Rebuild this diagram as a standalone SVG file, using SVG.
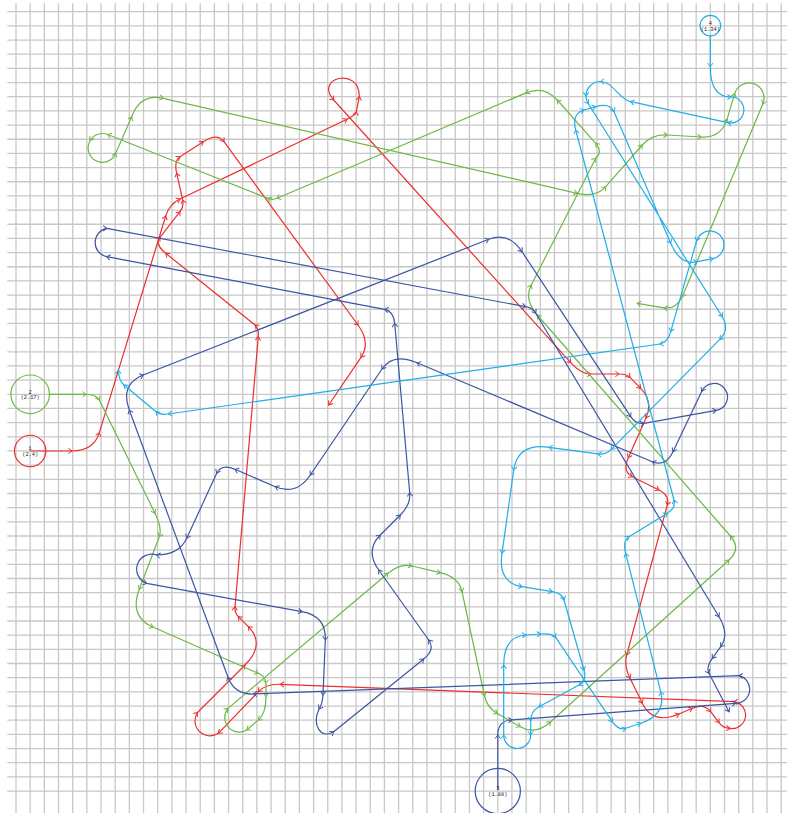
<svg xmlns="http://www.w3.org/2000/svg" width="787" height="813" viewBox="0 0 787 813">
<style>
.grid{fill:none;stroke:#c8c8c8;stroke-width:1.3}
.e{fill:none;stroke-width:1.2;stroke-linejoin:round;stroke-linecap:round}
.n{fill:none;stroke-width:1.2}
.t{font-family:"Liberation Mono","DejaVu Sans Mono",monospace;font-size:5.3px;fill:#222;text-anchor:middle}
.red{stroke:#ee2d2d}.grn{stroke:#6cb846}.blu{stroke:#3c55a5}.cyn{stroke:#1eaee8}
</style>
<defs>
<marker id="mr" markerUnits="userSpaceOnUse" markerWidth="8" markerHeight="8" viewBox="-4 -4 8 8" refX="0" refY="0" orient="auto" overflow="visible"><path d="M-3.6,-2.7L0,0L-3.6,2.7" fill="none" stroke="#ee2d2d" stroke-width="1"/></marker>
<marker id="mg" markerUnits="userSpaceOnUse" markerWidth="8" markerHeight="8" viewBox="-4 -4 8 8" refX="0" refY="0" orient="auto" overflow="visible"><path d="M-3.6,-2.7L0,0L-3.6,2.7" fill="none" stroke="#6cb846" stroke-width="1"/></marker>
<marker id="mb" markerUnits="userSpaceOnUse" markerWidth="8" markerHeight="8" viewBox="-4 -4 8 8" refX="0" refY="0" orient="auto" overflow="visible"><path d="M-3.6,-2.7L0,0L-3.6,2.7" fill="none" stroke="#3c55a5" stroke-width="1"/></marker>
<marker id="mc" markerUnits="userSpaceOnUse" markerWidth="8" markerHeight="8" viewBox="-4 -4 8 8" refX="0" refY="0" orient="auto" overflow="visible"><path d="M-3.6,-2.7L0,0L-3.6,2.7" fill="none" stroke="#1eaee8" stroke-width="1"/></marker>
</defs>
<rect x="0" y="0" width="787" height="813" fill="#ffffff"/>
<path class="grid" d="M16,3.3v810m14.17-810v810m14.17-810v810m14.17-810v810m14.17-810v810m14.17-810v810m14.17-810v810m14.17-810v810m14.17-810v810m14.17-810v810m14.17-810v810m14.17-810v810m14.17-810v810m14.17-810v810m14.17-810v810m14.17-810v810m14.17-810v810m14.17-810v810m14.17-810v810m14.17-810v810m14.17-810v810m14.17-810v810m14.17-810v810m14.17-810v810m14.17-810v810m14.17-810v810m14.17-810v810m14.17-810v810m14.17-810v810m14.17-810v810m14.17-810v810m14.17-810v810m14.17-810v810m14.17-810v810m14.17-810v810m14.17-810v810m14.17-810v810m14.17-810v810m14.17-810v810m14.17-810v810m14.17-810v810m14.17-810v810m14.17-810v810m14.17-810v810m14.17-810v810m14.17-810v810m14.17-810v810m14.17-810v810m14.17-810v810m14.17-810v810m14.17-810v810m14.17-810v810m14.17-810v810m14.17-810v810m14.17-810v810"/>
<path class="grid" d="M7.3,11.7h780m-780,14.17h780m-780,14.17h780m-780,14.17h780m-780,14.17h780m-780,14.17h780m-780,14.17h780m-780,14.17h780m-780,14.17h780m-780,14.17h780m-780,14.17h780m-780,14.17h780m-780,14.17h780m-780,14.17h780m-780,14.17h780m-780,14.17h780m-780,14.17h780m-780,14.17h780m-780,14.17h780m-780,14.17h780m-780,14.17h780m-780,14.17h780m-780,14.17h780m-780,14.17h780m-780,14.17h780m-780,14.17h780m-780,14.17h780m-780,14.17h780m-780,14.17h780m-780,14.17h780m-780,14.17h780m-780,14.17h780m-780,14.17h780m-780,14.17h780m-780,14.17h780m-780,14.17h780m-780,14.17h780m-780,14.17h780m-780,14.17h780m-780,14.17h780m-780,14.17h780m-780,14.17h780m-780,14.17h780m-780,14.17h780m-780,14.17h780m-780,14.17h780m-780,14.17h780m-780,14.17h780m-780,14.17h780m-780,14.17h780m-780,14.17h780m-780,14.17h780m-780,14.17h780m-780,14.17h780m-780,14.17h780m-780,14.17h780"/>
<g id="connectors">
<path id="path-red" class="e red" marker-mid="url(#mr)" marker-end="url(#mr)" d="M30.2,451 L72,451 Q93.8,451 99.3,432.7 L165.7,216 Q169.3,204.1 180,199 L347,119.3 Q355.6,115.2 356.3,111.7 L359.3,96.7 C359.8,66 313.6,77.7 333.7,100 L570.7,362.7 Q580.9,374 590.7,374 L619,374 Q626.8,374 630,377.3 L640.7,388.3 Q653.4,401.3 646,417.9 L628.3,457.7 Q622.1,471.6 632.3,476.7 L659,490 Q669.9,495.4 667.3,505 L626.7,655 Q623.8,665.7 630,678.3 L642.3,703.3 Q653,725.1 679,714 L692.3,708.3 Q704.3,703.2 710.7,711.7 L719,722.7 A13.5,13.5 0 0 0 730,728.4 A13.5,13.5 0 1 0 734,701.6 L280.3,684.3 Q265.9,683.8 258.3,691.7 L218.3,733.3 A15,15 0 0 1 197.5,712.5 L245,665 Q265.8,644.2 248.3,626.7 L238.3,616.7 Q234.5,612.9 235,606.7 L258.3,336.7 Q259,328.2 255,325 L165.7,253.3 Q154.5,244.3 160,237.3 L180,211.7 Q184.1,206.4 182.7,200 L176.7,173.3 Q173.8,160.7 180,156.7 L203.3,141.7 Q217.4,132.6 224,141.7 L358,325 Q371,342.6 361,357.3 L328.7,405"/>
<path id="path-green" class="e grn" marker-mid="url(#mg)" marker-end="url(#mg)" d="M49.3,394.3 L86,394.3 Q96.4,394.3 99.3,400 L155,513.3 Q162.4,528.4 159.3,536.7 L139.3,589.3 Q128.9,616.6 153.3,627.3 L258.3,673.3 Q266,676.7 266,683.3 L266,696.7 Q266,713.4 258.3,720 L246.7,730 A14.5,14.5 0 0 1 228,708.4 L388,573.3 Q400,563.2 412,566 L440.3,572.7 Q458.9,577.1 462,591.7 L484.5,696 Q487,707.4 497.5,713.5 L520.3,726.7 Q535.5,735.5 550.7,721.7 L729,560 Q741.5,548.7 730.4,536 L537.3,315 Q523.6,299.4 531.3,285 L595.7,158.3 Q603,151.5 595.7,143.3 L557.3,100 Q544.2,85.2 526,92.9 L277,198.3 Q272.4,200.2 267.8,198.4 L107.7,134.5 A14.3,14.3 0 0 0 90.2,140.5 A14.3,14.3 0 1 0 115.7,153.2 L131.7,116.7 Q140.4,93 163.3,98.3 L577.3,193.3 Q595.8,198 605.7,186.7 L642.3,145 Q651.9,134.1 667.3,135 L701.1,137 Q721.1,138.2 727.1,119.1 L734.7,93.5 A15,15 0 1 1 762.8,103.9 L682.3,296.7 Q675.6,309.7 664,307.8 L637.3,303.3"/>
<path id="path-blue" class="e blu" marker-mid="url(#mb)" marker-end="url(#mb)" d="M497.8,789 L497.8,735 Q497.8,720.8 511.9,719.8 L735.7,703.3 A14,14 0 0 0 739,675.7 L253.3,694 Q234.4,694.7 227.9,677 L129.3,410 Q119.8,384.4 143.3,375 L488.7,239.3 Q508.6,231.4 522,251.7 L630.7,416.7 Q635.9,424.6 644,423.3 L716.2,410.3 A13.5,13.5 0 1 0 701.8,391.2 L673,451.7 Q665.7,467.3 652.3,461.7 L417,362.7 Q393.1,352.6 382,369 L310.3,475 Q296.3,495.8 275.3,486.7 L235,469.3 Q221.3,463.4 216.7,473.3 L186.7,538.3 Q179,555 156.7,555 A15,15 0 0 0 146.7,583.3 L302,611.7 Q326.3,616.1 325.3,640 L323,695 Q322.5,704 319,709 C312,724 320,740 333.7,731.7 L423.7,659 Q435.6,649.5 428.7,640 L378.7,570 Q364.8,550.5 380.3,535 L400.3,515 Q410.8,504.5 409.7,492.7 L394.7,323.3 Q393.6,311 384.7,309.3 L106.7,256.7 A14.5,14.5 0 0 1 106.7,228.3 L525.7,306.7 Q532.5,307.9 535.7,313.3 L719,616.7 Q729.6,634.3 720.7,646.7 L712.3,658.3 Q705.8,667.2 709,673.3 L729,711.7"/>
<path id="path-cyan" class="e cyn" marker-mid="url(#mc)" marker-end="url(#mc)" d="M710.3,36.2 L710.3,66.7 Q710.3,97 731,97 A13,13 0 1 1 728.1,122.7 L630.7,101.7 C619,99 612.5,81.5 600.5,81.5 A14.5,14.5 0 0 0 586,96 A14.5,14.5 0 0 0 588.1,103.5 L722.3,316.7 Q730,329 719.8,339.3 L611.3,449.3 Q605.7,455 597.8,453.9 L549,447.3 Q517.6,443 513.7,470 L502,553.3 Q497.6,582.7 522,586.7 L552.3,591.7 Q562.1,593.3 564,600 L584,670 Q587,680.7 579,685 L539,706.7 Q530.7,711.2 530.7,720.6 L530.7,735 A13.5,13.5 0 0 1 503.7,735 L503.7,665 Q503.7,636.5 525.7,635 L540.7,634 Q552.9,633.2 555.7,637.3 L612.3,721.7 Q618.4,730.7 625.7,728.3 L640.7,723.3 Q666.5,714.7 660.7,691.7 L625.7,553.3 Q622.5,540.7 629,536.7 L667.3,513.3 Q676.1,507.9 674,500 L575.7,130 Q571.4,113.6 584,110 L595.7,106.7 Q610.1,102.6 614,111.7 L670.7,243.3 Q680.3,265.6 697.3,261.7 L713.1,258.6 A14,14 0 1 0 696.6,240.9 L670.7,331.7 Q667.5,342.9 660,344 L168.3,414 Q160.2,415.2 156,411.7 L124,385 Q118.8,380.7 118.3,370"/>
</g>
<g id="node-1"><circle class="n red" cx="30.17" cy="450.97" r="15.7"/><text class="t" x="30.17" y="450.2">1</text><text class="t" x="30.17" y="456">(2.4)</text></g>
<g id="node-2"><circle class="n grn" cx="30.17" cy="394.29" r="19.3"/><text class="t" x="30.17" y="393.5">2</text><text class="t" x="30.17" y="399.3">(2.17)</text></g>
<g id="node-3"><circle class="n blu" cx="497.78" cy="791.05" r="22.6"/><text class="t" x="497.78" y="789.6">3</text><text class="t" x="497.78" y="796.3">(1.88)</text></g>
<g id="node-4"><circle class="n cyn" cx="710.33" cy="25.6" r="10.3"/><text class="t" x="710.33" y="24.6">4</text><text class="t" x="710.33" y="31.3">(1.34)</text></g>
</svg>
